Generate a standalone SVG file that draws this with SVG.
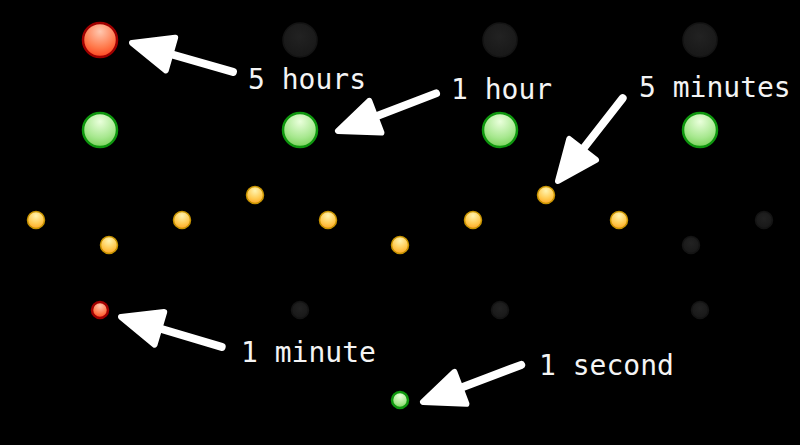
<svg xmlns="http://www.w3.org/2000/svg" xmlns:xlink="http://www.w3.org/1999/xlink" width="800" height="445" viewBox="0 0 800 445">
<style>
.lbl{font-family:"DejaVu Sans Mono","Liberation Mono",monospace;font-size:28px;fill:#f4f4f4}
.red{fill:url(#gRed);stroke:#a00000;stroke-width:2.5}
.grn{fill:url(#gGrn);stroke:#0e960e;stroke-width:2.5}
.org{fill:url(#gOrg);stroke:#c89400;stroke-width:1.5}
.off{fill:url(#gOff);stroke:#141414;stroke-width:1.5}
</style>
<defs>
<radialGradient id="gRed" cx="50%" cy="25%" r="80%"><stop offset="0" stop-color="#ffc8b0"/><stop offset="0.6" stop-color="#ff7a4c"/><stop offset="1" stop-color="#ff3c18"/></radialGradient>
<radialGradient id="gGrn" cx="50%" cy="25%" r="80%"><stop offset="0" stop-color="#eaffdc"/><stop offset="0.6" stop-color="#a8e890"/><stop offset="1" stop-color="#72d052"/></radialGradient>
<radialGradient id="gOrg" cx="50%" cy="25%" r="80%"><stop offset="0" stop-color="#fff4b0"/><stop offset="0.6" stop-color="#ffca50"/><stop offset="1" stop-color="#ffa020"/></radialGradient>
<radialGradient id="gOff" cx="50%" cy="40%" r="60%"><stop offset="0" stop-color="#222"/><stop offset="1" stop-color="#181818"/></radialGradient>
<g id="arrow">
<line x1="-105" y1="0" x2="-30" y2="0" stroke="#fff" stroke-width="8" stroke-linecap="round"/>
<polygon points="0,0 -40,-17 -40,17" fill="#fff" stroke="#fff" stroke-width="6" stroke-linejoin="round"/>
</g>
</defs>
<rect width="800" height="445" fill="#000"/>
<g id="hours5">
<circle class="red" cx="100" cy="40" r="17"/>
<circle class="off" cx="300" cy="40" r="17"/>
<circle class="off" cx="500" cy="40" r="17"/>
<circle class="off" cx="700" cy="40" r="17"/>
</g>
<g id="hours1">
<circle class="grn" cx="100" cy="130" r="17"/>
<circle class="grn" cx="300" cy="130" r="17"/>
<circle class="grn" cx="500" cy="130" r="17"/>
<circle class="grn" cx="700" cy="130" r="17"/>
</g>
<g id="minutes5">
<circle class="org" cx="36" cy="220" r="8.5"/>
<circle class="org" cx="109" cy="245" r="8.5"/>
<circle class="org" cx="182" cy="220" r="8.5"/>
<circle class="org" cx="255" cy="195" r="8.5"/>
<circle class="org" cx="328" cy="220" r="8.5"/>
<circle class="org" cx="400" cy="245" r="8.5"/>
<circle class="org" cx="473" cy="220" r="8.5"/>
<circle class="org" cx="546" cy="195" r="8.5"/>
<circle class="org" cx="619" cy="220" r="8.5"/>
<circle class="off" cx="691" cy="245" r="8.5"/>
<circle class="off" cx="764" cy="220" r="8.5"/>
</g>
<g id="minutes1">
<circle class="red" cx="100" cy="310" r="8"/>
<circle class="off" cx="300" cy="310" r="8.5"/>
<circle class="off" cx="500" cy="310" r="8.5"/>
<circle class="off" cx="700" cy="310" r="8.5"/>
</g>
<g id="second">
<circle class="grn" cx="400" cy="400" r="8"/>
</g>
<g id="connectors">
<use xlink:href="#arrow" transform="translate(132,43) rotate(196)"/>
<use xlink:href="#arrow" transform="translate(338,131) rotate(159)"/>
<use xlink:href="#arrow" transform="translate(558,181) rotate(128)"/>
<use xlink:href="#arrow" transform="translate(121,317) rotate(196.5)"/>
<use xlink:href="#arrow" transform="translate(423,402) rotate(159.3)"/>
</g>
<g id="labels">
<text class="lbl" x="248" y="89">5 hours</text>
<text class="lbl" x="451" y="99">1 hour</text>
<text class="lbl" x="639" y="97">5 minutes</text>
<text class="lbl" x="241" y="362">1 minute</text>
<text class="lbl" x="539" y="375">1 second</text>
</g>
</svg>
